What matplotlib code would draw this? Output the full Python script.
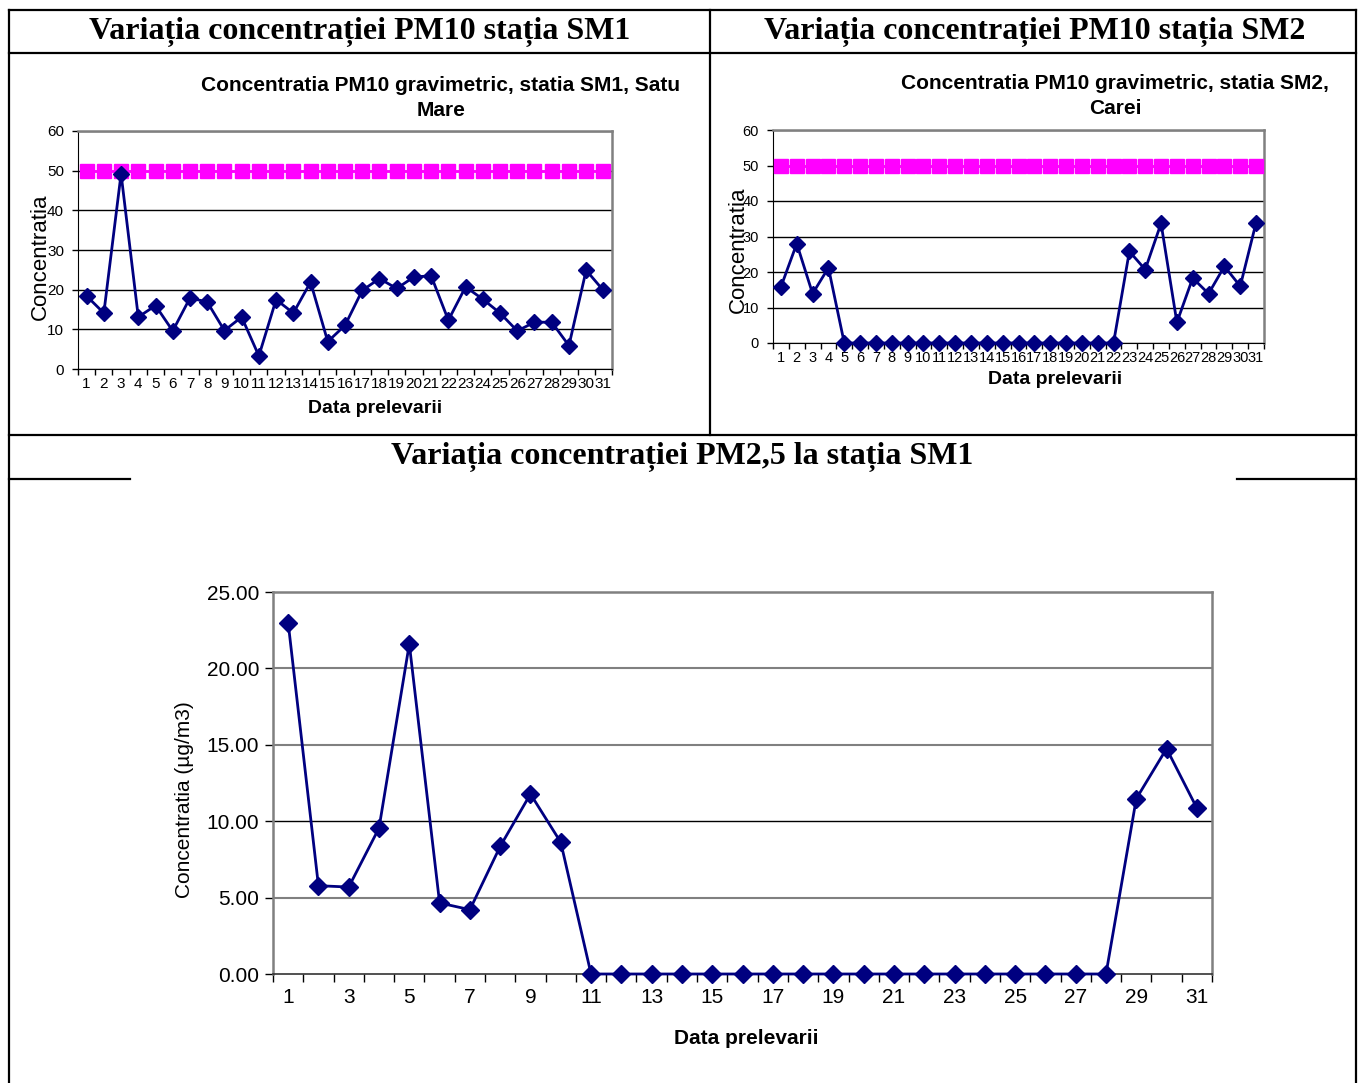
import matplotlib
matplotlib.use("Agg")
import matplotlib.pyplot as plt
from matplotlib.lines import Line2D

# ---------------- data ----------------
days = list(range(1, 32))
day_labels = [str(d) for d in days]

pm10_sm1 = [18.4, 14.1, 49.2, 13.1, 16.0, 9.6, 17.9, 16.9, 9.7, 13.1,
            3.3, 17.5, 14.1, 21.9, 6.9, 11.0, 19.8, 22.8, 20.3, 23.2,
            23.5, 12.3, 20.7, 17.6, 14.1, 9.6, 11.8, 11.8, 5.9, 24.9, 19.8]

pm10_sm2 = [15.8, 28.0, 13.9, 21.2, 0, 0, 0, 0, 0, 0,
            0, 0, 0, 0, 0, 0, 0, 0, 0, 0,
            0, 0, 25.8, 20.7, 33.7, 5.8, 18.3, 13.9, 21.6, 16.0, 33.9]

pm10_limit = [50, 50, 50, 50, 50, 50, 50, 50, 50, 50,
              50, 50, 50, 50, 50, 50, 50, 50, 50, 50,
              50, 50, 50, 50, 50, 50, 50, 50, 50, 50, 50]

pm25_sm1 = [23.0, 5.78, 5.69, 9.55, 21.6, 4.65, 4.21, 8.35, 11.78, 8.62,
            0, 0, 0, 0, 0, 0, 0, 0, 0, 0,
            0, 0, 0, 0, 0, 0, 0, 0, 11.47, 14.75, 10.86]

header_texts = ["Variația concentrației PM10 stația SM1",
                "Variația concentrației PM10 stația SM2",
                "Variația concentrației PM2,5 la stația SM1"]
title_sm1 = "Concentratia PM10 gravimetric, statia SM1, Satu\nMare"
title_sm2 = "Concentratia PM10 gravimetric, statia SM2,\nCarei"

# ---------------- figure ----------------
W, H = 1360, 1083
fig = plt.figure(figsize=(W / 100, H / 100), dpi=100)
fig.patch.set_facecolor("white")
SANS = "Liberation Sans"
SERIF = "Liberation Serif"
NAVY = "#000080"
MAG = "#FF00FF"
GRAY = "#808080"


def fx(px):
    return px / W


def fy(py):
    return 1 - py / H


def axes_px(l, t, r, b):
    return fig.add_axes([fx(l), fy(b), fx(r) - fx(l), fy(t) - fy(b)])


def hline(x0, x1, y, lw=1.6):
    fig.add_artist(Line2D([fx(x0), fx(x1)], [fy(y), fy(y)], color="black",
                          lw=lw, transform=fig.transFigure))


def vline(x, y0, y1, lw=1.6):
    fig.add_artist(Line2D([fx(x), fx(x)], [fy(y0), fy(y1)], color="black",
                          lw=lw, transform=fig.transFigure))


# table borders
hline(9, 1356, 10)
hline(9, 1356, 53)
hline(9, 1356, 435)
hline(9, 130, 479)
hline(1237, 1356, 479)
vline(9, 10, 1083)
vline(1356, 10, 1083)
vline(710, 10, 435)

# headers
fig.text(fx(360), fy(32), header_texts[0], ha="center", va="center",
         family=SERIF, weight="bold", fontsize=23)
fig.text(fx(1035), fy(32), header_texts[1], ha="center", va="center",
         family=SERIF, weight="bold", fontsize=23)
fig.text(fx(682), fy(457), header_texts[2], ha="center", va="center",
         family=SERIF, weight="bold", fontsize=23)


def style_top(ax, fsize):
    ax.set_xlim(0.5, 31.5)
    ax.set_ylim(0, 60)
    ax.set_yticks([0, 10, 20, 30, 40, 50, 60])
    ax.set_xticks(days)
    ax.set_xticklabels(day_labels)
    ax.set_xticks([d + 0.5 for d in range(0, 32)], minor=True)
    ax.tick_params(axis="x", which="major", length=0, pad=6,
                   labelsize=fsize)
    ax.tick_params(axis="x", which="minor", length=4, width=1,
                   direction="out", color="black")
    ax.tick_params(axis="y", which="major", length=4, width=1,
                   labelsize=fsize, pad=6)
    for lab in ax.get_xticklabels() + ax.get_yticklabels():
        lab.set_family(SANS)
    ax.grid(axis="y", color="black", lw=1)
    ax.set_axisbelow(True)
    ax.spines["left"].set_color("black")
    ax.spines["bottom"].set_color("black")
    ax.spines["top"].set_color(GRAY)
    ax.spines["right"].set_color(GRAY)
    ax.spines["top"].set_linewidth(1.8)
    ax.spines["right"].set_linewidth(1.8)


# ---- SM1 PM10 ----
ax1 = axes_px(78, 131, 612, 369)
ax1.plot(days, pm10_limit, color=MAG, lw=2, marker="s", ms=10.5,
         mec=MAG, mfc=MAG, zorder=3, clip_on=False)
ax1.plot(days, pm10_sm1, color=NAVY, lw=2, marker="D", ms=8.5,
         mec=NAVY, mfc=NAVY, zorder=4, clip_on=False)
style_top(ax1, 11)
fig.text(fx(441), fy(98), title_sm1, ha="center", va="center",
         family=SANS, weight="bold", fontsize=15, linespacing=1.42)
fig.text(fx(40), fy(257), "Concentratia", ha="center", va="center",
         rotation=90, family=SANS, fontsize=16)
fig.text(fx(375), fy(409), "Data prelevarii", ha="center", va="center",
         family=SANS, weight="bold", fontsize=14)

# ---- SM2 PM10 ----
ax2 = axes_px(773, 130, 1264, 343)
ax2.plot(days, pm10_limit, color=MAG, lw=2, marker="s", ms=10.5,
         mec=MAG, mfc=MAG, zorder=3, clip_on=False)
ax2.plot(days, pm10_sm2, color=NAVY, lw=2, marker="D", ms=8.5,
         mec=NAVY, mfc=NAVY, zorder=4, clip_on=False)
style_top(ax2, 10.5)
fig.text(fx(1115), fy(96), title_sm2, ha="center", va="center",
         family=SANS, weight="bold", fontsize=15, linespacing=1.35)
fig.text(fx(738), fy(250), "Concentratia", ha="center", va="center",
         rotation=90, family=SANS, fontsize=16)
fig.text(fx(1055), fy(380), "Data prelevarii", ha="center", va="center",
         family=SANS, weight="bold", fontsize=14)

# ---- SM1 PM2.5 ----
ax3 = axes_px(273, 592, 1212, 974)
ax3.plot(days, pm25_sm1, color=NAVY, lw=2, marker="D", ms=9,
         mec=NAVY, mfc=NAVY, zorder=4, clip_on=False)
ax3.set_xlim(0.5, 31.5)
ax3.set_ylim(0, 25)
yt = [0, 5, 10, 15, 20, 25]
ax3.set_yticks(yt)
ax3.set_yticklabels([f"{v:.2f}" for v in yt])
ax3.set_xticks(days[::2])
ax3.set_xticklabels(day_labels[::2])
ax3.set_xticks([d + 0.5 for d in range(0, 32)], minor=True)
ax3.tick_params(axis="x", which="major", length=0, pad=10, labelsize=15)
ax3.tick_params(axis="x", which="minor", length=6, width=1,
                direction="out", color="black")
ax3.tick_params(axis="y", which="major", length=6, width=1,
                labelsize=15, pad=4)
for lab in ax3.get_xticklabels() + ax3.get_yticklabels():
    lab.set_family(SANS)
for v in [5, 15, 20]:
    ax3.axhline(v, color=GRAY, lw=1.5, zorder=1)
ax3.axhline(10, color="black", lw=1, zorder=1)
for s in ["top", "right", "left"]:
    ax3.spines[s].set_color(GRAY)
    ax3.spines[s].set_linewidth(1.8)
ax3.spines["bottom"].set_color("#333333")
ax3.spines["bottom"].set_linewidth(1.2)
fig.text(fx(185), fy(800), "Concentratia (µg/m3)", ha="center", va="center",
         rotation=90, family=SANS, fontsize=15)
fig.text(fx(746), fy(1038), "Data prelevarii", ha="center", va="center",
         family=SANS, weight="bold", fontsize=15)

fig.savefig("out.png", dpi=100, facecolor="white")
